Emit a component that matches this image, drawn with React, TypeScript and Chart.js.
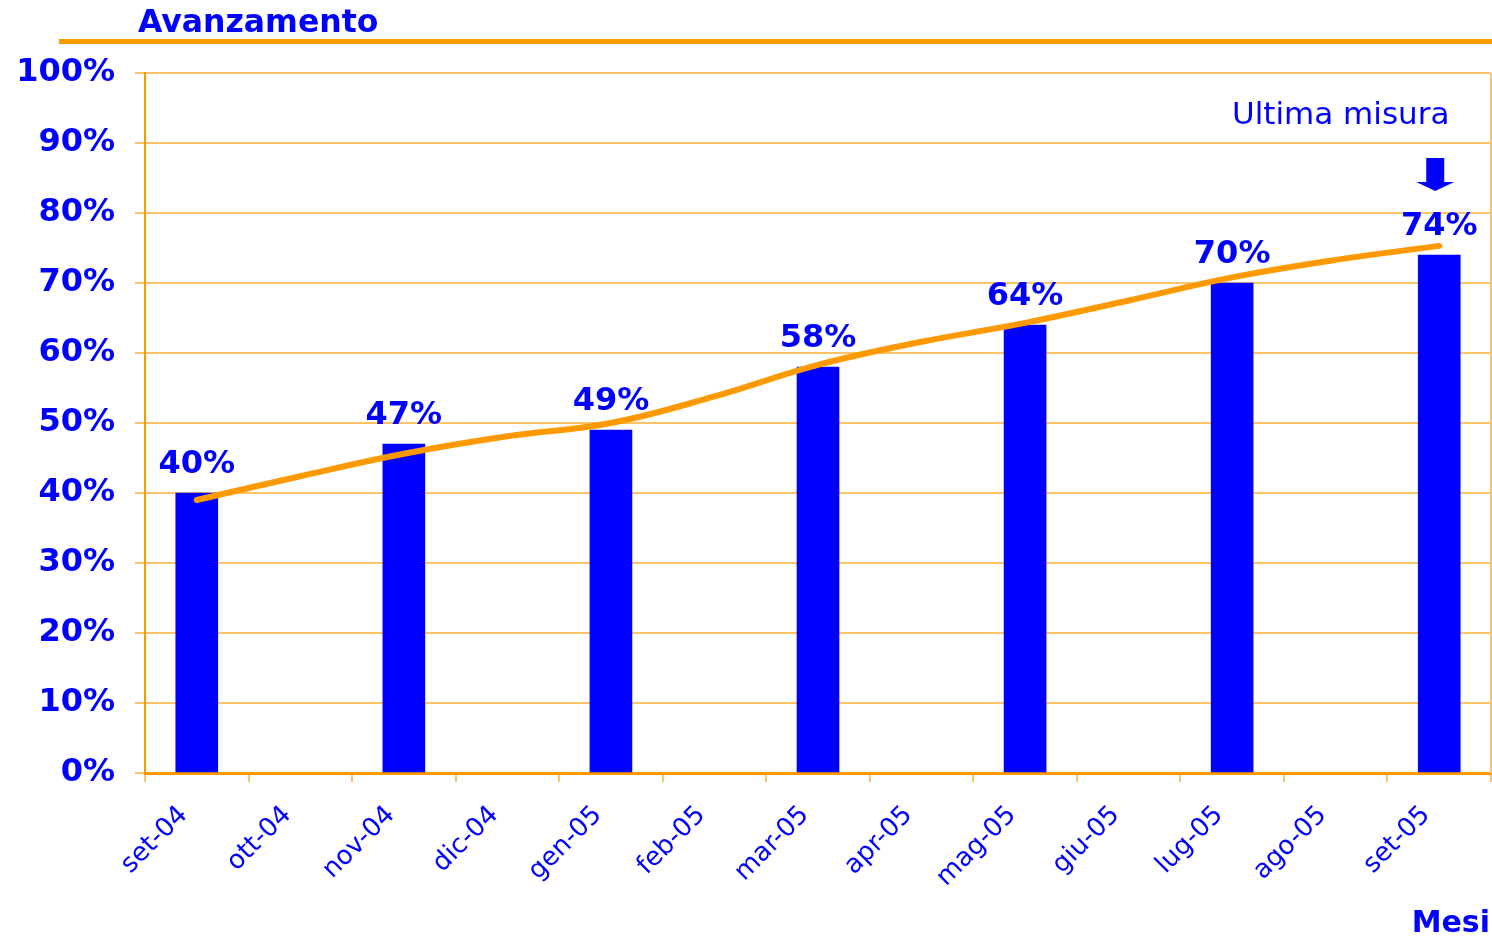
import React, { useEffect, useRef } from 'react';
import { Chart, registerables } from 'chart.js';

Chart.register(...registerables);

const categories = ['set-04', 'ott-04', 'nov-04', 'dic-04', 'gen-05', 'feb-05', 'mar-05', 'apr-05', 'mag-05', 'giu-05', 'lug-05', 'ago-05', 'set-05'];
const barValues = [40, null, 47, null, 49, null, 58, null, 64, null, 70, null, 74];
const trendValues = [39, 42.4, 45.6, 48.1, 50, 53.8, 58.3, 61.6, 64.3, 67.5, 70.8, 73.3, 75.3];
const yMin = 0;
const yMax = 100;
const yStep = 10;
const titleText = 'Avanzamento';
const xAxisText = 'Mesi';
const noteText = 'Ultima misura';

const BLUE = '#0000FF';
const ORANGE = '#FF9900';
const GRID = '#FFC466';
const FONT = '"DejaVu Sans", Verdana, sans-serif';

const overlayPlugin = {
  id: 'overlay',
  afterDatasetsDraw(chart: any) {
    const ctx = chart.ctx;
    const area = chart.chartArea;
    ctx.save();
    // right frame border
    ctx.strokeStyle = GRID;
    ctx.lineWidth = 2;
    ctx.beginPath();
    ctx.moveTo(area.right, area.top);
    ctx.lineTo(area.right, area.bottom);
    ctx.stroke();

    // value labels above bars
    const meta = chart.getDatasetMeta(1);
    ctx.fillStyle = BLUE;
    ctx.font = `bold 32px ${FONT}`;
    ctx.textAlign = 'center';
    ctx.textBaseline = 'alphabetic';
    meta.data.forEach((el: any, i: number) => {
      const v = barValues[i];
      if (v === null || v === undefined) return;
      ctx.fillText(`${v}%`, el.x, el.y - 20);
    });

    // arrow above last bar
    const last = meta.data[meta.data.length - 1];
    if (last) {
      const cx = last.x - 4;
      ctx.beginPath();
      ctx.moveTo(cx - 9, 158);
      ctx.lineTo(cx + 9, 158);
      ctx.lineTo(cx + 9, 182);
      ctx.lineTo(cx + 19, 182);
      ctx.lineTo(cx, 191);
      ctx.lineTo(cx - 19, 182);
      ctx.lineTo(cx - 9, 182);
      ctx.closePath();
      ctx.fill();
    }
    ctx.restore();
  },
  afterDraw(chart: any) {
    const ctx = chart.ctx;
    ctx.save();
    ctx.fillStyle = BLUE;
    ctx.textBaseline = 'alphabetic';
    ctx.font = `bold 31.5px ${FONT}`;
    ctx.textAlign = 'left';
    ctx.fillText(titleText, 138, 32);
    ctx.font = `bold 30px ${FONT}`;
    ctx.textAlign = 'right';
    ctx.fillText(xAxisText, 1490, 932);
    ctx.font = `31px ${FONT}`;
    ctx.textAlign = 'left';
    ctx.fillText(noteText, 1232, 124);
    ctx.fillStyle = ORANGE;
    ctx.fillRect(59, 39, 1433, 5);
    ctx.restore();
  },
};

export default function App() {
  const ref = useRef<HTMLCanvasElement | null>(null);

  useEffect(() => {
    if (!ref.current) return;
    const chart = new Chart(ref.current, {
      type: 'bar',
      data: {
        labels: categories,
        datasets: [
          {
            type: 'line',
            label: 'Trend',
            data: trendValues,
            borderColor: ORANGE,
            borderWidth: 6,
            tension: 0.4,
            pointRadius: 0,
            borderCapStyle: 'round',
            fill: false,
            order: 0,
          } as any,
          {
            type: 'bar',
            label: 'Avanzamento',
            data: barValues,
            backgroundColor: BLUE,
            barThickness: 42,
            order: 1,
          },
        ],
      },
      options: {
        animation: false,
        responsive: true,
        maintainAspectRatio: false,
        layout: { padding: { top: 73, right: 1, left: 0, bottom: 0 } },
        plugins: {
          legend: { display: false },
          tooltip: { enabled: false },
          title: { display: false },
        },
        scales: {
          x: {
            grid: { offset: true, drawOnChartArea: false, tickLength: 9, color: GRID, lineWidth: 2 },
            border: { color: ORANGE, width: 3 },
            ticks: {
              color: BLUE,
              font: { family: FONT, size: 26 },
              maxRotation: 45,
              minRotation: 45,
              autoSkip: false,
              padding: 18,
              labelOffset: -13,
            },
            afterFit: (s: any) => { s.height = 164; },
          },
          y: {
            min: yMin,
            max: yMax,
            ticks: {
              stepSize: yStep,
              color: BLUE,
              font: { family: FONT, size: 32, weight: 'bold' },
              padding: 20,
              callback: (v: any) => `${v}%`,
            },
            grid: { color: GRID, lineWidth: 2, tickLength: 10 },
            border: { color: ORANGE, width: 2 },
            afterFit: (s: any) => { s.width = 145; },
          },
        },
      },
      plugins: [overlayPlugin],
    });
    return () => chart.destroy();
  }, []);

  return (
    <div style={{ position: 'fixed', left: 0, top: 0, width: 1492, height: 937, background: '#fff' }}>
      <canvas ref={ref} />
    </div>
  );
}
